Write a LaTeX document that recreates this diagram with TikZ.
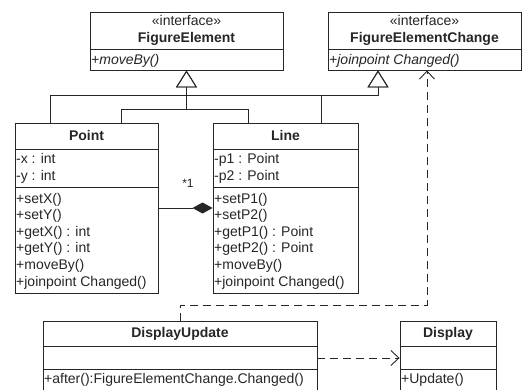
\documentclass[tikz,border=0pt]{standalone}
\usepackage{fontspec}
\setmainfont{Liberation Sans}
\usetikzlibrary{arrows.meta}
\definecolor{ink}{HTML}{262626}
\begin{document}
\begin{tikzpicture}[x=1pt,y=-1pt,
  every node/.style={font=\fontsize{14}{16}\selectfont, text=ink, inner sep=0pt},
  box/.style={draw=ink, line width=0.9pt, fill=white},
  sep/.style={draw=ink, line width=0.9pt},
  mem/.style={anchor=base west},
  ttl/.style={anchor=base, font=\fontsize{14}{16}\selectfont\bfseries},
  ln/.style={draw=ink, line width=0.9pt},
  gen/.style={ln, -{Triangle[open, length=17pt, width=21pt, line width=0.9pt]}},
  dep/.style={ln, dash pattern=on 8pt off 5pt, -{Straight Barb[length=8pt, width=15pt, line width=0.9pt]}},
  comp/.style={ln, -{Diamond[length=20pt, width=11pt]}}
]
\path[use as bounding box, fill=white] (0,0) rectangle (525,389);
\clip (0,0) rectangle (525,389);

% FigureElement
\node[box, minimum width=193pt, minimum height=58pt] (fe) at (186.5,41) {};
\draw[sep] (fe.west |- 0,49) -- (fe.east |- 0,49);
\node[anchor=base] (fe1) at (186.5,25) {«interface»};
\node[ttl] (fe2) at (186.5,42) {FigureElement};
\node[mem] (fe3) at (91,64) {\itshape +moveBy()};

% FigureElementChange
\node[box, minimum width=193pt, minimum height=58pt] (fec) at (424.5,41) {};
\draw[sep] (fec.west |- 0,49) -- (fec.east |- 0,49);
\node[anchor=base] (fec1) at (424.5,25) {«interface»};
\node[ttl] (fec2) at (424.5,42) {FigureElementChange};
\node[mem] (fec3) at (329,64) {\itshape +joinpoint Changed()};
\coordinate (fecT) at ([xshift=-46.5pt]fec.south);

% Point
\node[box, minimum width=143pt, minimum height=170pt] (point) at (86.5,208) {};
\draw[sep] (point.west |- 0,149) -- (point.east |- 0,149);
\draw[sep] (point.west |- 0,187) -- (point.east |- 0,187);
\node[ttl] (pt0) at (86.5,140) {Point};
\node[mem] (pa1) at (16,163) {-x : int};
\node[mem] (pa2) at (16,180) {-y : int};
\foreach \t [count=\i] in {+setX(),+setY(),+getX() : int,+getY() : int,+moveBy(),+joinpoint Changed()}
  \node[mem] (po\i) at (16,{203+16.6*(\i-1)}) {\t};

% Line
\node[box, minimum width=145pt, minimum height=170pt] (line) at (285.5,208) {};
\draw[sep] (line.west |- 0,149) -- (line.east |- 0,149);
\draw[sep] (line.west |- 0,187) -- (line.east |- 0,187);
\node[ttl] (ln0) at (285.5,140) {Line};
\node[mem] (la1) at (214,163) {-p1 : Point};
\node[mem] (la2) at (214,180) {-p2 : Point};
\foreach \t [count=\i] in {+setP1(),+setP2(),+getP1() : Point,+getP2() : Point,+moveBy(),+joinpoint Changed()}
  \node[mem] (lo\i) at (214,{203+16.6*(\i-1)}) {\t};

% DisplayUpdate
\node[box, minimum width=274pt, minimum height=74pt] (du) at (180,358) {};
\draw[sep] (du.west |- 0,346) -- (du.east |- 0,346);
\draw[sep] (du.west |- 0,369) -- (du.east |- 0,369);
\node[ttl] (du0) at (180,337) {DisplayUpdate};
\node[mem] (du1) at (44,383) {+after():FigureElementChange.Changed()};

% Display
\node[box, minimum width=96pt, minimum height=74pt] (disp) at (448,358) {};
\draw[sep] (disp.west |- 0,346) -- (disp.east |- 0,346);
\draw[sep] (disp.west |- 0,369) -- (disp.east |- 0,369);
\node[ttl] (dp0) at (448,337) {Display};
\node[mem] (dp1) at (401,383) {+Update()};

% generalizations
\draw[gen] ([xshift=36pt]point.north west) |- (fecT |- 0,95) -- (fecT);
\draw[gen] ([xshift=107pt]point.north west) |- (fe.south |- 0,109) -- (fe.south);
\draw[gen] ([xshift=36pt]line.north west) |- (fe.south |- 0,109) -- (fe.south);
\draw[gen] ([xshift=109pt]line.north west) |- (fecT |- 0,95) -- (fecT);

% composition
\draw[comp] (point.east) -- (line.west);
\node[font=\fontsize{12}{14}\selectfont] (mult) at (188,183) {*1};

% dependencies
\draw[dep] (du.north) -- (du.north |- 0,305) -| ([xshift=2.5pt]fec.south);
\draw[dep] (du.east) -- (disp.west);
\end{tikzpicture}
\end{document}
